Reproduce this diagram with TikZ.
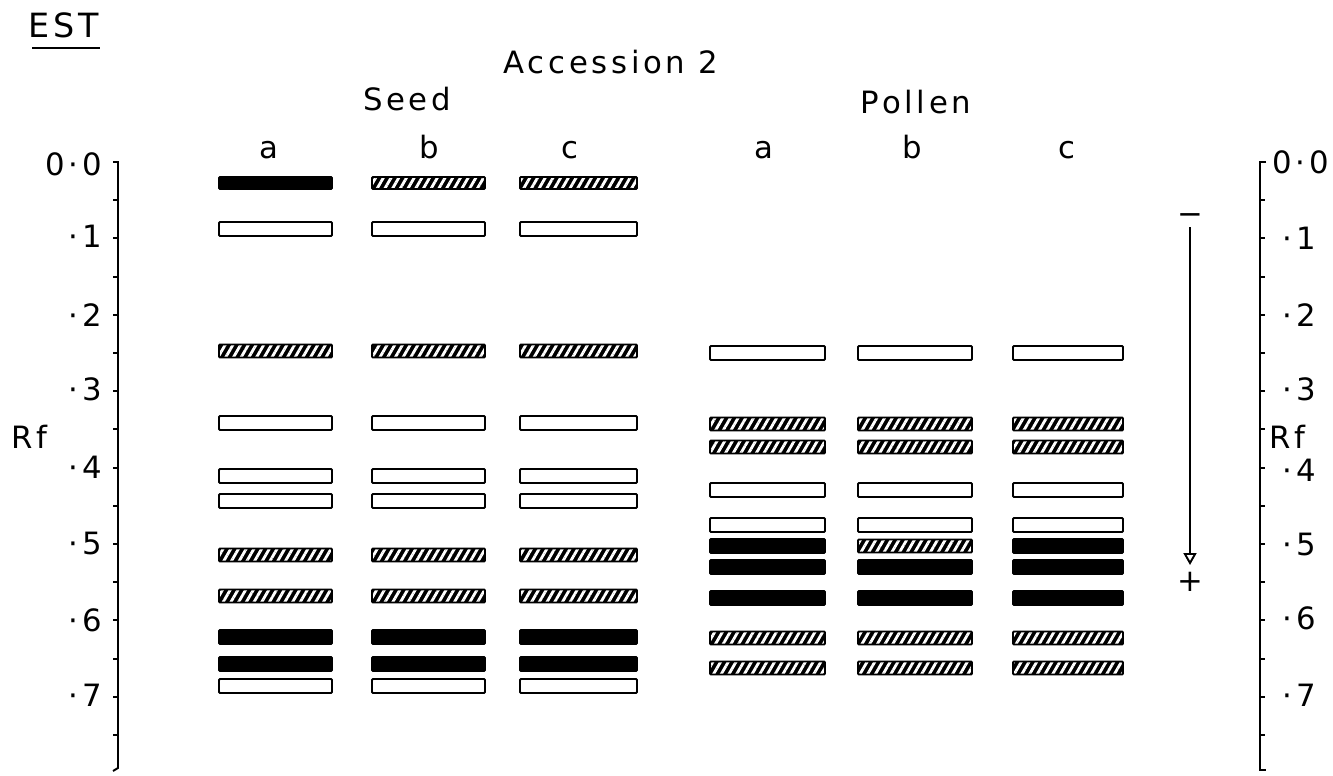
\documentclass[tikz,border=0pt]{standalone}
\usepackage{fontspec}
\setmainfont{DejaVu Sans}[LetterSpace=12]
\usetikzlibrary{arrows.meta}
\usetikzlibrary{patterns.meta}

\tikzset{
    lbl/.style={font=\fontsize{17.5}{20}\selectfont, inner sep=0pt},
    axis/.style={line width=1.1pt},
    band/.style={line width=1.1pt, rounded corners=0.6pt},
    openband/.style={band, draw=black, fill=white},
    solidband/.style={band, draw=black, fill=black},
    hatchband/.style={band, preaction={fill=black}, pattern={Lines[angle=60, distance=3.8pt, line width=1.6pt]}, pattern color=white, draw=black},
}

\begin{document}
\begin{tikzpicture}[x=0.02cm, y=-0.02cm]
    \useasboundingbox (0,0) rectangle (1333,775);

    % headings
    \node[lbl, anchor=base, font=\fontsize{19}{22}\selectfont] (est) at (64,37) {EST};
    \draw[line width=0.9pt] (32,48) -- (100,48);
    \node[lbl, anchor=base] (acc) at (611,73) {Accession 2};
    \node[lbl, anchor=base] (seed) at (407,110) {Seed};
    \node[lbl, anchor=base] (pollen) at (916,113) {Pollen};

    \node[lbl, anchor=base] (sa) at (269,158) {a};
    \node[lbl, anchor=base] (sb) at (429,158) {b};
    \node[lbl, anchor=base] (sc) at (570,158) {c};
    \node[lbl, anchor=base] (pa) at (764,158) {a};
    \node[lbl, anchor=base] (pb) at (912,158) {b};
    \node[lbl, anchor=base] (pc) at (1067,158) {c};

    % left scale
    \draw[axis] (113,162) -- (118,162) -- (118,768) -- (113,771);
    \foreach \k in {1,...,15}
        \draw[axis] (118,162+38.2*\k) -- ++(-5,0);
    \node[lbl, anchor=east] (l0) at (102,164) {0·0};
    \node[lbl, anchor=east] (l1) at (102,236) {·1};
    \node[lbl, anchor=east] (l2) at (102,315) {·2};
    \node[lbl, anchor=east] (l3) at (102,389) {·3};
    \node[lbl, anchor=east] (l4) at (102,467) {·4};
    \node[lbl, anchor=east] (l5) at (102,544) {·5};
    \node[lbl, anchor=east] (l6) at (102,620) {·6};
    \node[lbl, anchor=east] (l7) at (102,695) {·7};
    \node[lbl] (rfl) at (29,437) {Rf};

    % right scale
    \draw[axis] (1266,162) -- (1260,162) -- (1260,770) -- (1266,770);
    \foreach \k in {1,...,15}
        \draw[axis] (1260,162+38.2*\k) -- ++(5,0);
    \node[lbl, anchor=west] (r0) at (1272,162) {0·0};
    \node[lbl, anchor=east] (r1) at (1316,238) {·1};
    \node[lbl, anchor=east] (r2) at (1316,315) {·2};
    \node[lbl, anchor=east] (r3) at (1316,389) {·3};
    \node[lbl, anchor=east] (r4) at (1316,470) {·4};
    \node[lbl, anchor=east] (r5) at (1316,545) {·5};
    \node[lbl, anchor=east] (r6) at (1316,618) {·6};
    \node[lbl, anchor=east] (r7) at (1316,695) {·7};
    \node[lbl, anchor=west] (rfr) at (1269,437) {Rf};

    % direction of run
    \node[lbl] (minus) at (1190,219) {−};
    \node[lbl] (plus) at (1190,582) {+};
    \draw[line width=1pt, -{Triangle[open, length=0.24cm, width=0.26cm, line width=1.1pt]}, shorten <=0.16cm, shorten >=0.34cm] (minus.center) -- (plus.center);

    % seed bands
    \draw[solidband] (219,177) rectangle ++(113,12);
    \draw[hatchband] (372,177) rectangle ++(113,12);
    \draw[hatchband] (520,177) rectangle ++(117,12);
    \foreach \y in {229,423,476,501,686}
        \foreach \x/\w in {219/113,372/113,520/117}
            \draw[openband] (\x,\y-7) rectangle ++(\w,14);
    \foreach \y in {351,555,596}
        \foreach \x/\w in {219/113,372/113,520/117}
            \draw[hatchband] (\x,\y-6.5) rectangle ++(\w,13);
    \foreach \y in {637,664}
        \foreach \x/\w in {219/113,372/113,520/117}
            \draw[solidband] (\x,\y-7) rectangle ++(\w,14);

    % pollen bands
    \foreach \y in {353,490,525}
        \foreach \x/\w in {710/115,858/114,1013/110}
            \draw[openband] (\x,\y-7) rectangle ++(\w,14);
    \foreach \y in {424,447,638,668}
        \foreach \x/\w in {710/115,858/114,1013/110}
            \draw[hatchband] (\x,\y-6.5) rectangle ++(\w,13);
    \foreach \y in {567,598}
        \foreach \x/\w in {710/115,858/114,1013/110}
            \draw[solidband] (\x,\y-7) rectangle ++(\w,14);
    \draw[solidband] (710,539) rectangle ++(115,14);
    \draw[hatchband] (858,539.5) rectangle ++(114,13);
    \draw[solidband] (1013,539) rectangle ++(110,14);
\end{tikzpicture}
\end{document}
